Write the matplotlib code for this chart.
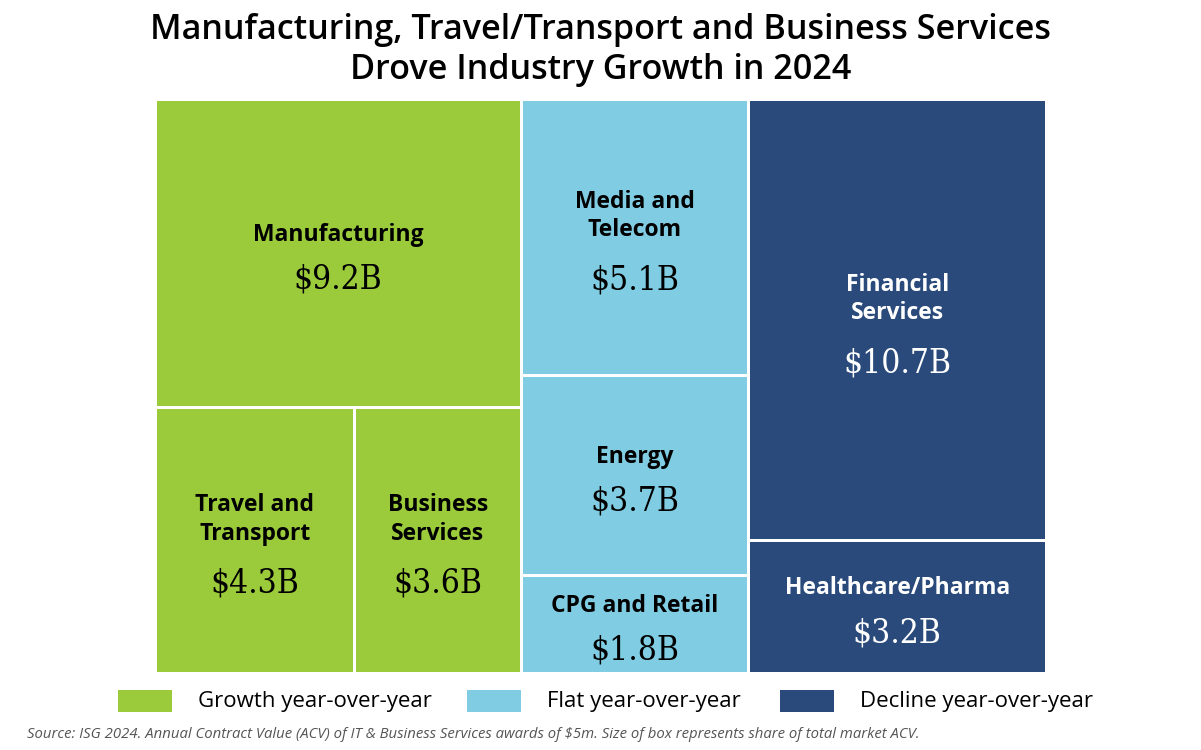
import matplotlib
matplotlib.use("Agg")
import matplotlib.pyplot as plt
from matplotlib.patches import Rectangle

# ==========================
# Data
# ==========================
groups = ["Growth year-over-year", "Flat year-over-year", "Decline year-over-year"]
group_colors = ["#9BCB3B", "#80CDE3", "#294A7A"]
text_colors = ["black", "black", "white"]

# each group is a list of rows, each row is a list of (label, value)
growth_rows = [[("Manufacturing", 9.2)],
               [("Travel and\nTransport", 4.3), ("Business\nServices", 3.6)]]
flat_rows = [[("Media and\nTelecom", 5.1)],
             [("Energy", 3.7)],
             [("CPG and Retail", 1.8)]]
decline_rows = [[("Financial\nServices", 10.7)],
                [("Healthcare/Pharma", 3.2)]]
layout = [growth_rows, flat_rows, decline_rows]

title = "Manufacturing, Travel/Transport and Business Services\nDrove Industry Growth in 2024"
source = ("Source: ISG 2024. Annual Contract Value (ACV) of IT & Business Services awards of $5m. "
          "Size of box represents share of total market ACV.")

# ==========================
# Figure
# ==========================
W, H = 1201, 750
fig = plt.figure(figsize=(W / 100, H / 100), dpi=100)
sans = ["Open Sans", "DejaVu Sans"]

# treemap area in pixels
x0, y0, tw, th = 155, 99, 891, 574
ax = fig.add_axes([x0 / W, 1 - (y0 + th) / H, tw / W, th / H])
ax.set_xlim(0, tw)
ax.set_ylim(th, 0)
ax.axis("off")

gap = 3
line_h = 29
total = sum(v for rows in layout for row in rows for _, v in row)
cx = 0
for gi, rows in enumerate(layout):
    gsum = sum(v for row in rows for _, v in row)
    colw = gsum / total * tw
    cy = 0
    for row in rows:
        rsum = sum(v for _, v in row)
        rowh = rsum / gsum * th
        rx = cx
        for label, val in row:
            w = val / rsum * colw
            ax.add_patch(Rectangle((rx + gap / 2, cy + gap / 2), w - gap, rowh - gap,
                                   facecolor=group_colors[gi], edgecolor="none"))
            # text block centered in tile
            nlines = label.count("\n") + 1
            val_gap = 45 if nlines == 1 else 50
            block = (nlines - 1) * line_h + val_gap
            mx = rx + w / 2
            my = cy + rowh / 2 + 4
            top = my - block / 2
            ax.text(mx, top + (nlines - 1) * line_h / 2, label, ha="center", va="center",
                    fontsize=16.5, fontweight="bold", family=sans, color=text_colors[gi],
                    linespacing=1.25)
            ax.text(mx, top + block, "$%.1fB" % val, ha="center", va="center",
                    fontsize=24, family=["DejaVu Serif"], fontstretch="condensed",
                    color=text_colors[gi])
            rx += w
        cy += rowh
    cx += colw

fig.text(0.5, 1 - 50 / H, title, ha="center", va="center", fontsize=24.6,
         fontweight="semibold", family=sans, linespacing=1.25)

# legend drawn by hand
leg_x = [118, 467, 780]
for gi, name in enumerate(groups):
    fig.patches.append(Rectangle((leg_x[gi] / W, 1 - 712 / H), 54 / W, 22 / H,
                                 transform=fig.transFigure, facecolor=group_colors[gi],
                                 edgecolor="none"))
    fig.text((leg_x[gi] + 80) / W, 1 - 701 / H, name, ha="left", va="center",
             fontsize=16, family=sans)

fig.text(27 / W, 1 - 735 / H, source, ha="left", va="center", fontsize=10.7,
         style="italic", color="#555555", family=sans)

fig.savefig("out.png", dpi=100)
